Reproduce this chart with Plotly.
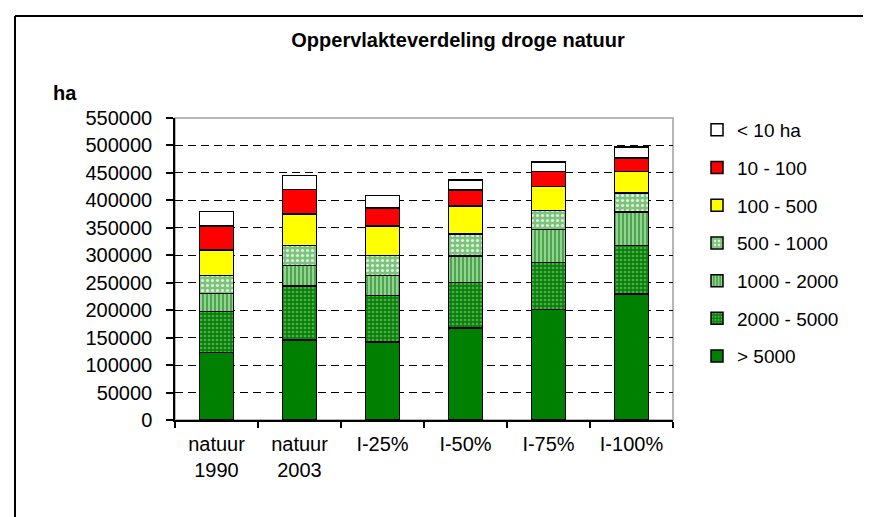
import plotly.graph_objects as go

categories = ["natuur<br>1990", "natuur<br>2003", "I-25%", "I-50%", "I-75%", "I-100%"]

series_names = ["> 5000", "2000 - 5000", "1000 - 2000", "500 - 1000", "100 - 500", "10 - 100", "< 10 ha"]
v_gt5000 = [123000, 145500, 142500, 168000, 201000, 229500]
v_2000_5000 = [75000, 98500, 84000, 82500, 86000, 88000]
v_1000_2000 = [32000, 37000, 36500, 48500, 60000, 61500]
v_500_1000 = [33500, 36500, 36500, 39500, 35000, 34000]
v_100_500 = [46000, 57500, 54000, 51000, 43000, 39500]
v_10_100 = [44000, 44500, 32500, 29500, 27500, 25000]
v_lt10 = [26000, 25500, 22500, 18000, 17500, 19500]
series_values = [v_gt5000, v_2000_5000, v_1000_2000, v_500_1000, v_100_500, v_10_100, v_lt10]

styles = [
    dict(color="#008000"),
    dict(color="#008000", pattern=dict(shape=".", fgcolor="#4caf4c", bgcolor="#0a800a", size=4, solidity=0.35, fillmode="replace")),
    dict(color="#5cb85c", pattern=dict(shape="|", fgcolor="#a8dca8", bgcolor="#4aa84a", size=4, solidity=0.4, fillmode="replace")),
    dict(color="#8fcf8f", pattern=dict(shape=".", fgcolor="#e0f2e0", bgcolor="#7cc47c", size=5, solidity=0.3, fillmode="replace")),
    dict(color="#ffff00"),
    dict(color="#ff0000"),
    dict(color="#ffffff"),
]

FONT = "Liberation Sans, Arial, sans-serif"

fig = go.Figure()
n = len(series_names)
for i, (name, vals, st) in enumerate(zip(series_names, series_values, styles)):
    marker = dict(st)
    marker["line"] = dict(color="black", width=1.5)
    fig.add_trace(go.Bar(x=categories, y=vals, name=name, marker=marker,
                         legendgroup=f"g{i}", legendrank=n - i))

L, R, T, B = 167, 206, 110, 105
W, H = 871, 517
pw, ph = W - L - R, H - T - B

def px_x(p):
    return (p - L) / pw

def px_y(p):
    return (H - B - p) / ph

fig.update_layout(
    width=W, height=H,
    margin=dict(l=L, r=R, t=T, b=B, autoexpand=False),
    barmode="stack", bargap=0.59,
    paper_bgcolor="white", plot_bgcolor="white",
    font=dict(family=FONT, size=20, color="black"),
    title=dict(text="<b>Oppervlakteverdeling droge natuur</b>", font=dict(size=20, family=FONT),
               x=px_x(450), xref="paper", xanchor="center",
               y=1 - 32 / H, yref="container", yanchor="middle"),
    showlegend=True,
    legend=dict(traceorder="grouped", tracegroupgap=10, maxheight=450,
                x=px_x(689), xanchor="left", y=px_y(103), yanchor="top",
                font=dict(size=19, family=FONT), bgcolor="rgba(0,0,0,0)"),
    xaxis=dict(type="category", range=[-0.5, 5.5], tickson="boundaries",
               ticks="outside", ticklen=6, tickcolor="black", tickwidth=1.5,
               ticklabelstandoff=5,
               showline=True, linecolor="black", linewidth=1.5,
               showgrid=False, tickfont=dict(size=20, family=FONT)),
    yaxis=dict(range=[0, 550000], dtick=50000, tick0=0, tickformat="d",
               ticks="outside", ticklen=7, tickcolor="black", tickwidth=1.5,
               ticklabelstandoff=10,
               showline=True, linecolor="black", linewidth=1.5,
               showgrid=True, gridcolor="black", gridwidth=1, griddash="8px,5px",
               zeroline=False, tickfont=dict(size=20, family=FONT)),
    annotations=[dict(text="<b>ha</b>", x=px_x(43), y=px_y(85), xref="paper", yref="paper",
                      xanchor="left", yanchor="middle", showarrow=False,
                      font=dict(size=20, family=FONT))],
    shapes=[
        dict(type="rect", xref="paper", yref="paper", x0=0, x1=1, y0=0, y1=1,
             line=dict(color="#a0a0a0", width=1.5), layer="below"),
        dict(type="line", xref="paper", yref="paper", x0=px_x(7), x1=px_x(W + 5),
             y0=px_y(8), y1=px_y(8), line=dict(color="black", width=2)),
        dict(type="line", xref="paper", yref="paper", x0=px_x(7), x1=px_x(7),
             y0=px_y(8), y1=px_y(H + 5), line=dict(color="black", width=2)),
    ],
)

fig.write_html("out.html")
